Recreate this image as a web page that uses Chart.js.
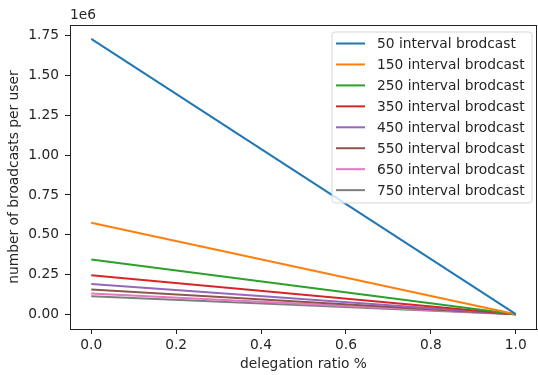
<!DOCTYPE html>
<html>
<head>
<meta charset="utf-8">
<script src="https://cdn.jsdelivr.net/npm/chart.js@4"></script>
<style>
  body { margin: 0; background: #fff; }
  canvas { display: block; }
</style>
</head>
<body>
<canvas id="chart" width="538" height="375"></canvas>
<script>
'use strict';

// x positions (delegation ratio)
let ratios = [0, 1];

// broadcast intervals, one line each
let intervals = [50, 150, 250, 350, 450, 550, 650, 750];

// broadcasts per user at ratio 0 and ratio 1
let startValues = [1728000, 576000, 345600, 246900, 192000, 157100, 132900, 115200];
let endValues = [3000, 3000, 3000, 3000, 3000, 3000, 3000, 3000];

let xTicks = [0, 0.2, 0.4, 0.6, 0.8, 1.0];
let yTicks = [0, 250000, 500000, 750000, 1000000, 1250000, 1500000, 1750000];

let colors = ['#1f77b4', '#ff7f0e', '#2ca02c', '#d62728', '#9467bd', '#8c564b', '#e377c2', '#7f7f7f'];

const fontFamily = '"DejaVu Sans", sans-serif';
const textColor = '#262626';
const fontSize = 13.8;

let datasets = [];
for (let i = 0; i < intervals.length; i++) {
  datasets.push({
    label: intervals[i] + ' interval brodcast',
    data: [
      { x: ratios[0], y: startValues[i] },
      { x: ratios[1], y: endValues[i] }
    ],
    borderColor: colors[i],
    backgroundColor: colors[i],
    borderWidth: 2,
    pointRadius: 0,
    tension: 0
  });
}

// frame, offset text and boxed legend like matplotlib
const extras = {
  id: 'extras',
  afterDraw(chart) {
    const ctx = chart.ctx;
    const area = chart.chartArea;
    ctx.save();
    ctx.strokeStyle = '#222';
    ctx.lineWidth = 1;
    ctx.strokeRect(area.left + 0.5, area.top + 0.5, area.right - area.left - 1, area.bottom - area.top);

    ctx.fillStyle = textColor;
    ctx.font = fontSize + 'px ' + fontFamily;
    ctx.textAlign = 'left';
    ctx.textBaseline = 'bottom';
    ctx.fillText('1e6', area.left, 22);

    // legend box
    const bx = 332, by = 32, bw = 200, bh = 171, r = 3;
    ctx.beginPath();
    ctx.moveTo(bx + r, by);
    ctx.arcTo(bx + bw, by, bx + bw, by + bh, r);
    ctx.arcTo(bx + bw, by + bh, bx, by + bh, r);
    ctx.arcTo(bx, by + bh, bx, by, r);
    ctx.arcTo(bx, by, bx + bw, by, r);
    ctx.closePath();
    ctx.fillStyle = 'rgba(255,255,255,0.8)';
    ctx.fill();
    ctx.strokeStyle = '#d6d6d6';
    ctx.stroke();

    ctx.textBaseline = 'middle';
    chart.data.datasets.forEach(function(ds, i) {
      const y = 43.5 + i * 20.95;
      ctx.strokeStyle = ds.borderColor;
      ctx.lineWidth = 2;
      ctx.beginPath();
      ctx.moveTo(336, y);
      ctx.lineTo(365, y);
      ctx.stroke();
      ctx.fillStyle = textColor;
      ctx.fillText(ds.label, 377, y + 1);
    });
    ctx.restore();
  }
};

const ctx = document.getElementById('chart');
new Chart(ctx, {
  type: 'line',
  data: { datasets: datasets },
  options: {
    responsive: false,
    animation: false,
    layout: { padding: { top: 25, right: 1, left: 0, bottom: 0 } },
    plugins: {
      legend: { display: false },
      tooltip: { enabled: false }
    },
    scales: {
      x: {
        type: 'linear',
        min: -0.05,
        max: 1.05,
        afterBuildTicks: function(scale) {
          scale.ticks = xTicks.map(function(v) { return { value: v }; });
        },
        afterFit: function(scale) { scale.height = 46; },
        grid: { display: true, drawOnChartArea: false, drawTicks: true, tickLength: 5, color: '#222' },
        border: { display: true, color: '#222' },
        ticks: {
          color: textColor,
          padding: 3,
          maxRotation: 0,
          font: { family: fontFamily, size: fontSize },
          callback: function(v) { return v.toFixed(1); }
        },
        title: {
          display: true,
          text: 'delegation ratio %',
          color: textColor,
          padding: { top: 0, bottom: 2 },
          font: { family: fontFamily, size: fontSize }
        }
      },
      y: {
        min: -90000,
        max: 1815000,
        afterBuildTicks: function(scale) {
          scale.ticks = yTicks.map(function(v) { return { value: v }; });
        },
        afterFit: function(scale) { scale.width = 70; },
        grid: { display: true, drawOnChartArea: false, drawTicks: true, tickLength: 5, color: '#222' },
        border: { display: true, color: '#222' },
        ticks: {
          color: textColor,
          padding: 6,
          font: { family: fontFamily, size: fontSize },
          callback: function(v) { return (v / 1e6).toFixed(2); }
        },
        title: {
          display: true,
          text: 'number of broadcasts per user',
          color: textColor,
          padding: { top: 6, bottom: 0 },
          font: { family: fontFamily, size: fontSize }
        }
      }
    }
  },
  plugins: [extras]
});
</script>
</body>
</html>
